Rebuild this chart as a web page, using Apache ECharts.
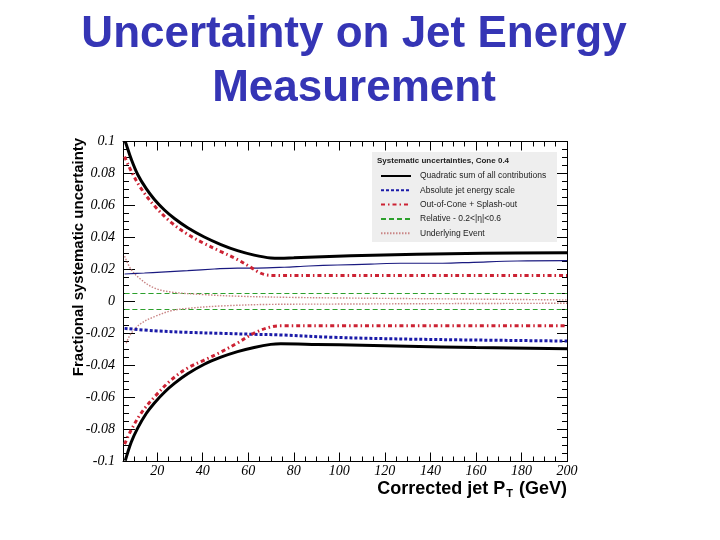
<!DOCTYPE html>
<html><head><meta charset="utf-8">
<script src="https://cdn.jsdelivr.net/npm/echarts@6/dist/echarts.min.js"></script>
<style>html,body{margin:0;padding:0;background:#fff}#c{width:720px;height:540px}</style>
</head><body><div id="c"></div>
<script>
// ---- data ----
const xTickLabels = [20, 40, 60, 80, 100, 120, 140, 160, 180, 200];

const sumUpX = [6.0, 6.4, 8.6, 11.5, 15.2, 18.8, 23.2, 27.6, 33.4, 40.7, 48.0, 55.3, 62.6, 69.9, 74, 80, 105, 134, 163, 200];
const sumUpY = [0.1000, 0.0983, 0.0890, 0.0792, 0.0705, 0.0638, 0.0572, 0.0519, 0.0461, 0.0403, 0.0356, 0.0318, 0.0290, 0.0272, 0.0270, 0.0273, 0.0286, 0.0295, 0.0301, 0.0305];

const sumLoX = [6.0, 8.6, 11.5, 15.2, 18.8, 23.2, 27.6, 33.4, 40.7, 48, 55.3, 62.6, 69.9, 74.3, 90, 110, 130, 160, 200];
const sumLoY = [-0.0995, -0.0880, -0.0790, -0.0700, -0.0634, -0.0567, -0.0512, -0.0452, -0.0392, -0.0348, -0.0313, -0.0287, -0.0268, -0.0264, -0.0268, -0.0274, -0.0280, -0.0288, -0.0296];

const oocUpX = [5.7, 8.6, 13, 18.8, 26.1, 33.4, 40.7, 48, 55.3, 61, 65, 68, 72, 100, 150, 200];
const oocUpY = [0.0905, 0.0815, 0.0705, 0.0598, 0.0495, 0.0420, 0.0362, 0.0312, 0.0262, 0.0215, 0.0180, 0.0166, 0.0163, 0.0163, 0.0163, 0.0163];

const oocLoX = [5.7, 8.6, 13, 18.8, 26.1, 33.4, 40.7, 48, 55.3, 62.6, 69.9, 74.3, 100, 150, 200];
const oocLoY = [-0.0891, -0.0803, -0.0697, -0.0597, -0.0491, -0.0416, -0.0366, -0.0316, -0.0259, -0.0197, -0.0159, -0.0152, -0.0152, -0.0152, -0.0152];

const jesUpX = [5.7, 14.4, 21.8, 33.4, 45.1, 55.3, 64.1, 75.8, 86.6, 99.3, 113.7, 126.9, 145.3, 158.9, 178.1, 200];
const jesUpY = [0.0172, 0.0178, 0.0184, 0.0193, 0.0203, 0.0209, 0.0209, 0.0214, 0.0222, 0.0228, 0.0234, 0.0239, 0.0239, 0.0245, 0.0253, 0.0255];

const jesLoX = [5.7, 18.8, 33.4, 48, 62.5, 74.3, 97.5, 134.3, 200];
const jesLoY = [-0.0168, -0.0183, -0.0193, -0.0199, -0.0205, -0.0209, -0.0224, -0.0236, -0.0247];

const relX = [5.7, 200];
const relUpY = [0.005, 0.005];
const relLoY = [-0.005, -0.005];

const ueUpX = [5.7, 8.6, 13, 18.8, 26.1, 40.6, 55.5, 77.4, 100, 150, 200];
const ueUpY = [0.0283, 0.0199, 0.0136, 0.0084, 0.0059, 0.0043, 0.0033, 0.0026, 0.0022, 0.0016, 0.0010];
const ueLoX = [6.4, 8.6, 13, 18.8, 26.1, 33.4, 48, 69.9, 100, 150, 200];
const ueLoY = [-0.0261, -0.0199, -0.0136, -0.0095, -0.0058, -0.0043, -0.0028, -0.0018, -0.0016, -0.0013, -0.0011];

const names = ['Quadratic sum of all contributions', 'Absolute jet energy scale', 'Out-of-Cone + Splash-out', 'Relative - 0.2<|\u03b7|<0.6', 'Underlying Event'];

// ---- chart ----
function pairs(xs, ys) { return xs.map((x, i) => [x, ys[i]]); }
const chart = echarts.init(document.getElementById('c'), null, {renderer: 'canvas'});
const tickFont = {fontFamily: 'Liberation Serif', fontStyle: 'italic', fontSize: 14, color: '#000'};
const X0 = 5, X1 = 200;
function xAx(pos, major, labels) {
  const a = {type: 'value', position: pos, min: X0, max: X1, gridIndex: 0,
    axisLine: {show: major, onZero: false, lineStyle: {color: '#000', width: 1}},
    splitLine: {show: false},
    axisTick: {show: true, inside: true, length: major ? 9 : 5, lineStyle: {color: '#000'}},
    axisLabel: {show: false}};
  if (major) {
    a.axisTick.customValues = xTickLabels;
    a.axisLabel = labels ? Object.assign({show: true, customValues: xTickLabels, margin: 3, formatter: v => String(v)}, tickFont) : {show: false};
  } else {
    a.interval = 5;
  }
  return a;
}
function yAx(pos, labels) {
  return {type: 'value', position: pos, min: -0.1, max: 0.1, interval: 0.02,
    axisLine: {show: true, onZero: false, lineStyle: {color: '#000', width: 1}},
    splitLine: {show: false},
    axisTick: {show: true, inside: true, length: labels ? 12 : 10, lineStyle: {color: '#000'}},
    minorTick: {show: true, splitNumber: 4, length: labels ? 6 : 5, lineStyle: {color: '#000'}},
    axisLabel: labels ? Object.assign({show: true, margin: 8}, tickFont) : {show: false}};
}
function line(name, data, color, width, type, z) {
  return {type: 'line', name: name, data: data, xAxisIndex: 0, yAxisIndex: 0,
    symbol: 'none', smooth: 0.35, z: z || 2, silent: true,
    lineStyle: {color: color, width: width, type: type}, itemStyle: {color: color}};
}
const cBlack = '#000000', cBlue = '#1a1aa8', cBlueThin = '#1a1a80', cRed = '#cc2233', cGreen = '#2ca02c', cUE = '#c98585';
chart.setOption({
  animation: false,
  backgroundColor: '#ffffff',
  grid: {left: 123, top: 141.5, width: 444, height: 320, containLabel: false, outerBoundsMode: 'none'},
  xAxis: [xAx('bottom', true, true), xAx('bottom', false), xAx('top', true, false), xAx('top', false)],
  yAxis: [yAx('left', true), yAx('right', false)],
  legend: {
    orient: 'vertical', left: 380, top: 171, padding: 0, itemGap: 4.3,
    itemWidth: 30, itemHeight: 10, data: names,
    itemStyle: {opacity: 0},
    textStyle: {fontFamily: 'Liberation Sans', fontSize: 8.5, color: '#222', lineHeight: 10, padding: [0, 0, 0, 4]},
    selectedMode: false
  },
  graphic: [
    {type: 'rect', left: 372, top: 152, z: -1, shape: {width: 185, height: 90}, style: {fill: '#eeeeee'}, silent: true},
    {type: 'text', x: 377, y: 160.5, z: 10, style: {text: 'Systematic uncertainties, Cone 0.4', fill: '#222', fontFamily: 'Liberation Sans', fontWeight: 'bold', fontSize: 8, textVerticalAlign: 'middle'}},
    {type: 'text', x: 354, y: 8, z: 10, style: {text: 'Uncertainty on Jet Energy\nMeasurement', fill: '#3535b5', fontFamily: 'Liberation Sans', fontWeight: 'bold', fontSize: 44, lineHeight: 54, textAlign: 'center', textVerticalAlign: 'top'}},
    {type: 'text', x: 79, y: 257, rotation: Math.PI / 2, z: 10, style: {text: 'Fractional systematic uncertainty', fill: '#000', fontFamily: 'Liberation Sans', fontWeight: 'bold', fontSize: 15, textAlign: 'center', textVerticalAlign: 'middle'}},
    {type: 'text', x: 567, y: 489, z: 10, style: {text: '{a|Corrected jet P}{s|T}{a| (GeV)}', textAlign: 'right', textVerticalAlign: 'middle',
      rich: {a: {fontFamily: 'Liberation Sans', fontWeight: 'bold', fontSize: 18, fill: '#000', color: '#000'},
             s: {fontFamily: 'Liberation Sans', fontWeight: 'bold', fontSize: 11, fill: '#000', color: '#000', padding: [10, 1, 0, 1]}}}}
  ],
  series: [
    line(names[3], pairs(relX, relUpY), cGreen, 1.2, [5, 3], 2),
    line(names[3], pairs(relX, relLoY), cGreen, 1.2, [5, 3], 2),
    line(names[4], pairs(ueUpX, ueUpY), cUE, 1.4, [1.5, 1.5], 2),
    line(names[4], pairs(ueLoX, ueLoY), cUE, 1.4, [1.5, 1.5], 2),
    line(names[1], pairs(jesLoX, jesLoY), cBlue, 3, [3, 2], 3),
    line(names[1], pairs(jesUpX, jesUpY), cBlueThin, 1.2, 'solid', 3),
    line(names[2], pairs(oocUpX, oocUpY), cRed, 3, [4, 3, 1.5, 3], 4),
    line(names[2], pairs(oocLoX, oocLoY), cRed, 3, [4, 3, 1.5, 3], 4),
    line(names[0], pairs(sumUpX, sumUpY), cBlack, 3, 'solid', 5),
    line(names[0], pairs(sumLoX, sumLoY), cBlack, 3, 'solid', 5)
  ]
});
</script></body></html>
